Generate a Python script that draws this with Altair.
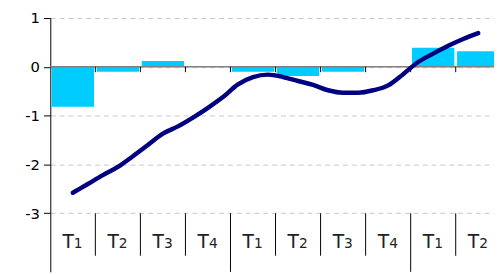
import altair as alt
import pandas as pd

quarters = ["T1", "T2", "T3", "T4", "T1", "T2", "T3", "T4", "T1", "T2"]
bar_values = [-0.82, -0.10, 0.12, 0.0, -0.10, -0.19, -0.10, 0.0, 0.39, 0.32]
line_values = [-2.58, -2.40, -2.22, -2.05, -1.83, -1.60, -1.37, -1.22, -1.04, -0.84,
               -0.62, -0.36, -0.21, -0.16, -0.21, -0.29, -0.37, -0.48, -0.53, -0.53,
               -0.48, -0.38, -0.15, 0.10, 0.27, 0.43, 0.57, 0.69]
y_ticks = [1, 0, -1, -2, -3]

bars_df = pd.DataFrame({"idx": list(range(len(quarters))), "q": quarters, "v": bar_values})
line_df = pd.DataFrame({"m": list(range(len(line_values))), "v": line_values})
bounds_df = pd.DataFrame({"b": list(range(1, len(quarters)))})
zero_df = pd.DataFrame({"v": [0]})

xs = alt.Scale(domain=[0, 9.85], nice=False, zero=False)
ys = alt.Scale(domain=[-4.2, 1], nice=False, zero=False)
FONT = "DejaVu Sans"

yax = alt.Axis(
    values=y_ticks, grid=True, gridDash=[5, 4], gridColor="#c8c8c8", gridWidth=1,
    tickSize=7, tickColor="black", domainColor="black", domainWidth=1,
    labelFont=FONT, labelFontSize=15, labelColor="black", labelPadding=4,
    labelExpr="datum.value < 0 ? '-' + abs(datum.value) : '' + datum.value",
    title=None)

bars = alt.Chart(bars_df).mark_bar(color="#00CCFF", clip=True).transform_calculate(
    x1="datum.idx + 0.03", x2="datum.idx + 0.97"
).encode(
    x=alt.X("x1:Q", scale=xs, axis=None),
    x2="x2:Q",
    y=alt.Y("v:Q", scale=ys, axis=yax),
    y2=alt.datum(0),
)

zero = alt.Chart(zero_df).mark_rule(color="#808080", strokeWidth=1.6).encode(
    y=alt.Y("v:Q", scale=ys, axis=yax)
)

ticks = alt.Chart(bounds_df).mark_rule(color="black", strokeWidth=1).encode(
    x=alt.X("b:Q", scale=xs, axis=None),
    y=alt.datum(0),
    y2=alt.datum(-0.11),
)

qsep = alt.Chart(bounds_df).transform_filter("datum.b % 4 != 0").mark_rule(
    color="black", strokeWidth=1).encode(
    x=alt.X("b:Q", scale=xs, axis=None),
    y=alt.datum(-3),
    y2=alt.datum(-3.87),
)

ysep = alt.Chart(bounds_df).transform_filter("datum.b % 4 == 0").mark_rule(
    color="black", strokeWidth=1).encode(
    x=alt.X("b:Q", scale=xs, axis=None),
    y=alt.datum(-3),
    y2=alt.datum(-4.2),
)

lab_base = alt.Chart(bars_df).transform_calculate(
    xc="datum.idx + 0.5",
    letter="substring(datum.q, 0, 1)",
    digit="substring(datum.q, 1)",
)

lab_letter = lab_base.mark_text(align="right", baseline="alphabetic", font=FONT,
                                fontSize=19, color="#222222", dx=1).encode(
    x=alt.X("xc:Q", scale=xs, axis=None),
    y=alt.datum(-3.71),
    text="letter:N",
)
lab_digit = lab_base.mark_text(align="left", baseline="alphabetic", font=FONT,
                               fontSize=14, color="#222222", dx=1).encode(
    x=alt.X("xc:Q", scale=xs, axis=None),
    y=alt.datum(-3.71),
    text="digit:N",
)

line = alt.Chart(line_df).transform_calculate(xm="0.5 + datum.m / 3").mark_line(
    color="#000080", strokeWidth=4.5, interpolate="monotone", strokeCap="round",
    strokeJoin="round").encode(
    x=alt.X("xm:Q", scale=xs, axis=None),
    y=alt.Y("v:Q", scale=ys, axis=yax),
)

chart = alt.layer(bars, zero, ticks, qsep, ysep, lab_letter, lab_digit, line).properties(
    width=451, height=258,
    autosize=alt.AutoSizeParams(type="none"),
    padding={"left": 43, "top": 8, "right": 0, "bottom": 0},
).configure_view(stroke=None)

chart.save("out.html", embed_options={"renderer": "svg", "actions": False})
